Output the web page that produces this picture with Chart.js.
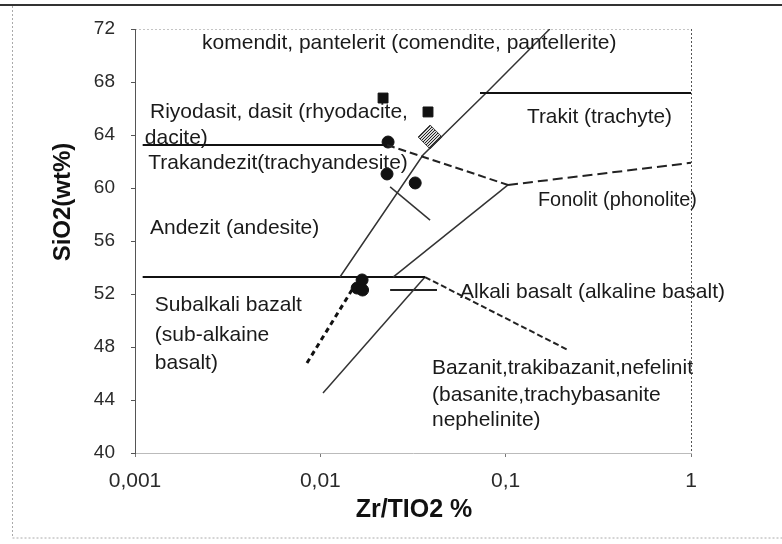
<!DOCTYPE html>
<html>
<head>
<meta charset="utf-8">
<script src="https://cdn.jsdelivr.net/npm/chart.js@4/dist/chart.umd.min.js"></script>
<style>
  html, body { margin: 0; padding: 0; background: #fff; }
  #wrap { width: 782px; height: 544px; }
</style>
</head>
<body>
<div id="wrap"><canvas id="chart" width="782" height="544"></canvas></div>
<script>
// Axis ticks
const xTicks = [0.001, 0.01, 0.1, 1];
const xTickLabels = ['0,001', '0,01', '0,1', '1'];
const yTicks = [40, 44, 48, 52, 56, 60, 64, 68, 72];

// Field boundaries, [Zr/TiO2, SiO2]
const upperSolid = [[0.0011, 63.25], [0.0229, 63.25]];
const upperDash = [[0.0229, 63.25], [0.103, 60.23]];
const phonoDash = [[0.103, 60.23], [1, 61.9]];
const trachyteLine = [[0.0727, 67.17], [1, 67.17]];
const diagA = [[0.01276, 53.28], [0.0358, 62.49], [0.0784, 67.17], [0.173, 72]];
const diagB = [[0.0247, 53.28], [0.103, 60.23]];
const lowerSolid = [[0.0011, 53.28], [0.0367, 53.28]];
const alkaliDash = [[0.0367, 53.28], [0.217, 47.77]];
const diagD = [[0.01034, 44.53], [0.0367, 53.28]];
const shortH = [[0.0238, 52.3], [0.0426, 52.3]];
const shortE = [[0.0238, 60.08], [0.0391, 57.58]];
const trendDash = [[0.00847, 46.79], [0.0148, 52.3]];

// Samples
const squares = [[0.0218, 66.79], [0.0381, 65.74]];
const hatched = [[0.0391, 63.85]];
const circles = [[0.0232, 63.47], [0.0229, 61.06], [0.0325, 60.38],
                 [0.0158, 52.45], [0.0168, 53.06], [0.0169, 52.3]];

// Field names: text, x, y, width
const fieldLabels = [
  ['komendit, pantelerit (comendite, pantellerite)', 0.0023, 70.94, 418],
  ['Riyodasit, dasit (rhyodacite,', 0.001205, 65.74, 263],
  ['dacite)', 0.00113, 63.75, 65],
  ['Trakandezit(trachyandesite)', 0.00118, 61.89, 272],
  ['Andezit (andesite)', 0.001205, 56.98, 173],
  ['Subalkali bazalt', 0.00128, 51.17, 147],
  ['(sub-alkaine', 0.00128, 48.91, 122],
  ['basalt)', 0.00128, 46.79, 65],
  ['Trakit (trachyte)', 0.1303, 65.36, 145],
  ['Fonolit (phonolite)', 0.1494, 59.09, 159],
  ['Alkali basalt (alkaline basalt)', 0.0567, 52.15, 265],
  ['Bazanit,trakibazanit,nefelinit', 0.04003, 46.42, 261],
  ['(basanite,trachybasanite', 0.04003, 44.38, 235],
  ['nephelinite)', 0.04003, 42.49, 136]
];

const FONT = '"Liberation Sans", Arial, sans-serif';
const pts = arr => arr.map(p => ({ x: p[0], y: p[1] }));

function lineSet(arr, width, color, dash) {
  return {
    data: pts(arr), showLine: true, pointRadius: 0,
    borderColor: color, borderWidth: width, borderDash: dash || [], fill: false
  };
}

// grey hatch for the big diamond
function hatchPattern() {
  const c = document.createElement('canvas');
  c.width = 3; c.height = 3;
  const g = c.getContext('2d');
  g.fillStyle = '#d8d8d8';
  g.fillRect(0, 0, 3, 3);
  g.fillStyle = '#222';
  g.fillRect(0, 0, 1, 1);
  g.fillRect(2, 1, 1, 1);
  g.fillRect(1, 2, 1, 1);
  return g.createPattern(c, 'repeat');
}

const frame = {
  id: 'frame',
  beforeDraw(chart) {
    const { ctx, chartArea: a } = chart;
    ctx.save();
    // outer picture frame
    ctx.strokeStyle = '#333';
    ctx.lineWidth = 2;
    ctx.beginPath(); ctx.moveTo(0, 5); ctx.lineTo(782, 5); ctx.stroke();
    ctx.strokeStyle = '#aaa';
    ctx.lineWidth = 1;
    ctx.setLineDash([2, 2]);
    ctx.beginPath(); ctx.moveTo(12.5, 6); ctx.lineTo(12.5, 538); ctx.lineTo(782, 538); ctx.stroke();
    // plot top and right
    ctx.strokeStyle = '#c4c4c4';
    ctx.beginPath(); ctx.moveTo(a.left, a.top + 0.5); ctx.lineTo(a.right, a.top + 0.5); ctx.stroke();
    ctx.strokeStyle = '#555';
    ctx.beginPath(); ctx.moveTo(a.right + 0.5, a.top); ctx.lineTo(a.right + 0.5, a.bottom); ctx.stroke();
    ctx.restore();
  },
  afterDraw(chart) {
    const { ctx, scales: { x, y } } = chart;
    ctx.save();
    ctx.fillStyle = '#1a1a1a';
    ctx.textBaseline = 'middle';
    ctx.textAlign = 'left';
    ctx.font = '21px ' + FONT;
    fieldLabels.forEach(([txt, vx, vy, w]) => {
      ctx.fillText(txt, x.getPixelForValue(vx), y.getPixelForValue(vy), w);
    });
    // axis titles
    ctx.fillStyle = '#111';
    ctx.textAlign = 'center';
    ctx.font = 'bold 25px ' + FONT;
    ctx.fillText('Zr/TIO2 %', 414, 510);
    ctx.font = 'bold 24px ' + FONT;
    ctx.translate(63, 202);
    ctx.rotate(-Math.PI / 2);
    ctx.fillText('SiO2(wt%)', 0, 0);
    ctx.restore();
  }
};

const datasets = [
  lineSet(upperSolid, 2, '#111'),
  lineSet(upperDash, 2, '#222', [8, 4]),
  lineSet(phonoDash, 2, '#222', [10, 5]),
  lineSet(trachyteLine, 2, '#111'),
  lineSet(diagA, 1.5, '#333'),
  lineSet(diagB, 1.5, '#333'),
  lineSet(lowerSolid, 2, '#111'),
  lineSet(alkaliDash, 2, '#222', [6, 3]),
  lineSet(diagD, 1.5, '#333'),
  lineSet(shortH, 2, '#222'),
  lineSet(shortE, 1.5, '#333'),
  lineSet(trendDash, 3, '#111', [5, 4]),
  { data: pts(squares), pointStyle: 'rect', pointRadius: 7, backgroundColor: '#111', borderColor: '#111', borderWidth: 1 },
  { data: pts(hatched), pointStyle: 'rectRot', pointRadius: 12, backgroundColor: hatchPattern(), borderColor: '#444', borderWidth: 1 },
  { data: pts(circles), pointStyle: 'circle', pointRadius: 6, backgroundColor: '#111', borderColor: '#111', borderWidth: 1 }
];

new Chart(document.getElementById('chart'), {
  type: 'scatter',
  data: { datasets: datasets },
  options: {
    responsive: false,
    animation: false,
    layout: { padding: { top: 29, right: 91, left: 0, bottom: 0 } },
    plugins: { legend: { display: false }, tooltip: { enabled: false } },
    scales: {
      x: {
        type: 'logarithmic', min: 0.001, max: 1,
        afterBuildTicks: s => { s.ticks = xTicks.map(v => ({ value: v })); },
        afterFit: s => { s.height = 91; },
        grid: { drawOnChartArea: false, drawTicks: true, tickLength: 4, color: '#777' },
        border: { display: true, color: '#bbb', dash: [2, 2] },
        ticks: {
          autoSkip: false, maxRotation: 0, padding: 12, color: '#2a2a2a',
          font: { family: FONT, size: 21 },
          callback: (v, i) => xTickLabels[i]
        }
      },
      y: {
        min: 40, max: 72,
        afterBuildTicks: s => { s.ticks = yTicks.map(v => ({ value: v })); },
        afterFit: s => { s.width = 135; },
        grid: { drawOnChartArea: false, drawTicks: true, tickLength: 4, color: '#555' },
        border: { display: true, color: '#555', dash: [2, 2] },
        ticks: {
          autoSkip: false, padding: 16, color: '#2a2a2a',
          font: { family: FONT, size: 19 }
        }
      }
    }
  },
  plugins: [frame]
});
</script>
</body>
</html>
